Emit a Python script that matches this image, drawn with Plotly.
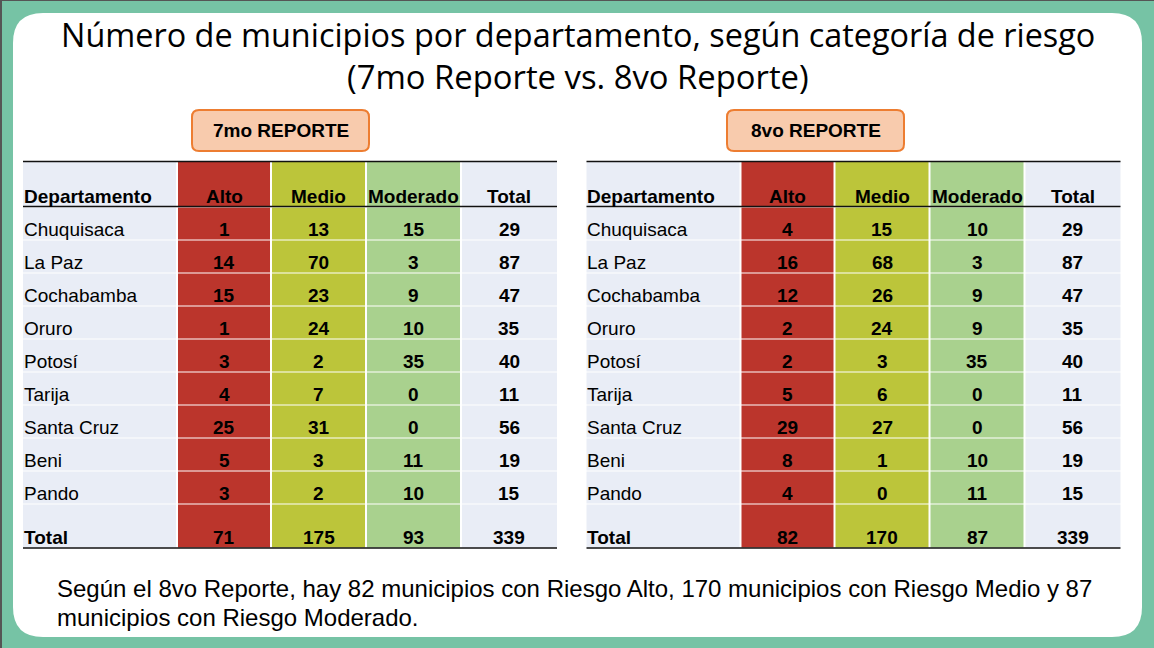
import plotly.graph_objects as go

title_lines = ["Número de municipios por departamento, según categoría de riesgo", "(7mo Reporte vs. 8vo Reporte)"]
note_lines = ["Según el 8vo Reporte, hay 82 municipios con Riesgo Alto, 170 municipios con Riesgo Medio y 87",
              "municipios con Riesgo Moderado."]
headers = ["Departamento", "Alto", "Medio", "Moderado", "Total"]
departamentos = ["Chuquisaca", "La Paz", "Cochabamba", "Oruro", "Potosí", "Tarija", "Santa Cruz", "Beni", "Pando", "Total"]

alto_7 = [1, 14, 15, 1, 3, 4, 25, 5, 3, 71]
medio_7 = [13, 70, 23, 24, 2, 7, 31, 3, 2, 175]
moderado_7 = [15, 3, 9, 10, 35, 0, 0, 11, 10, 93]
total_7 = [29, 87, 47, 35, 40, 11, 56, 19, 15, 339]

alto_8 = [4, 16, 12, 2, 2, 5, 29, 8, 4, 82]
medio_8 = [15, 68, 26, 24, 3, 6, 27, 1, 0, 170]
moderado_8 = [10, 3, 9, 9, 35, 0, 0, 10, 11, 87]
total_8 = [29, 87, 47, 35, 40, 11, 56, 19, 15, 339]

W, H = 1154, 648
TEAL, RED, OLIVE, GREEN, PALE = "#76C3A5", "#BB352C", "#BCC53A", "#A9D18E", "#E9EDF6"
SANS = "Liberation Sans"
shapes, notes = [], []


def text(x, y, s, size, bold=False, anchor="center", font=SANS):
    notes.append(dict(x=x, y=y, text=f"<b>{s}</b>" if bold else s, showarrow=False, xanchor=anchor, yanchor="middle",
                      font=dict(family=font, size=size, color="#000000")))


def rect(x0, y0, x1, y1, fill):
    shapes.append(dict(type="rect", x0=x0, y0=y0, x1=x1, y1=y1, fillcolor=fill, line=dict(width=0), layer="below"))


def rounded(x0, y0, x1, y1, r, fill, line=None, width=0):
    p = (f"M{x0+r},{y0} L{x1-r},{y0} Q{x1},{y0} {x1},{y0+r} L{x1},{y1-r} Q{x1},{y1} {x1-r},{y1} "
         f"L{x0+r},{y1} Q{x0},{y1} {x0},{y1-r} L{x0},{y0+r} Q{x0},{y0} {x0+r},{y0} Z")
    shapes.append(dict(type="path", path=p, fillcolor=fill, line=dict(color=line or fill, width=width), layer="below"))


def hline(x0, x1, y, w=1.3):
    shapes.append(dict(type="line", x0=x0, x1=x1, y0=y, y1=y, line=dict(color="#111111", width=w), layer="above"))


def table(left, label, btn_x, cols):
    edges = [left + d for d in (0, 154, 248, 343, 438, 534)]
    fills = [PALE, RED, OLIVE, GREEN, PALE]
    top, head, rowh, nrows, bottom = 161.5, 207, 33, 9, 548
    ys = [head + rowh * i for i in range(nrows + 1)] + [bottom]
    for c in range(5):
        x0, x1 = edges[c] + (1 if c else 0), edges[c + 1] - 1 if c < 4 else edges[c + 1]
        rect(x0, top, x1, head, fills[c])
        for r in range(nrows + 1):
            rect(x0, ys[r] + 0.5, x1, ys[r + 1] - 0.5, fills[c])
        xc = (edges[c] + edges[c + 1]) / 2
        if c == 0:
            text(edges[0] - 1.5, 196, headers[0], 19, True, "left")
        else:
            text(xc, 196, headers[c], 19, True)
    for r, name in enumerate(departamentos):
        y = ys[r + 1] - 10.5
        text(edges[0] - 1.5, y, f"{name}", 19, r == nrows, "left")
        for c, vals in enumerate(cols):
            text((edges[c + 1] + edges[c + 2]) / 2, y, str(vals[r]), 19, True)
    hline(edges[0], edges[5], top)
    hline(edges[0], edges[5], head - 0.5)
    hline(edges[0], edges[5], bottom)
    rounded(btn_x, 110, btn_x + 177, 151, 7, "#F8CBAD", "#ED7D31", 2)
    text(btn_x + 88.5, 130.5, label, 19, True)


rounded(13, 13, 1142, 637, 30, "#FFFFFF")
shapes.append(dict(type="rect", x0=0, y0=0, x1=2, y1=H, fillcolor="#555555", line=dict(width=0), layer="below"))
shapes.append(dict(type="rect", x0=0, y0=0, x1=W, y1=1, fillcolor="#555555", line=dict(width=0), layer="below"))
text(577.5, 34, title_lines[0], 32.4, font="Open Sans")
text(577.5, 76, title_lines[1], 32.8, font="Open Sans")
table(23, "7mo REPORTE", 192, [alto_7, medio_7, moderado_7, total_7])
table(586.5, "8vo REPORTE", 727, [alto_8, medio_8, moderado_8, total_8])
text(55, 588, note_lines[0], 24, anchor="left")
text(55, 617, note_lines[1], 24, anchor="left")

fig = go.Figure()
fig.update_layout(width=W, height=H, margin=dict(l=0, r=0, t=0, b=0), paper_bgcolor=TEAL, plot_bgcolor=TEAL,
                  shapes=shapes, annotations=notes, showlegend=False,
                  xaxis=dict(range=[0, W], visible=False, fixedrange=True),
                  yaxis=dict(range=[H, 0], visible=False, fixedrange=True))
fig.write_html("out.html", config=dict(displayModeBar=False),
               post_script="document.body.style.margin='0';document.documentElement.style.overflow='hidden';")
